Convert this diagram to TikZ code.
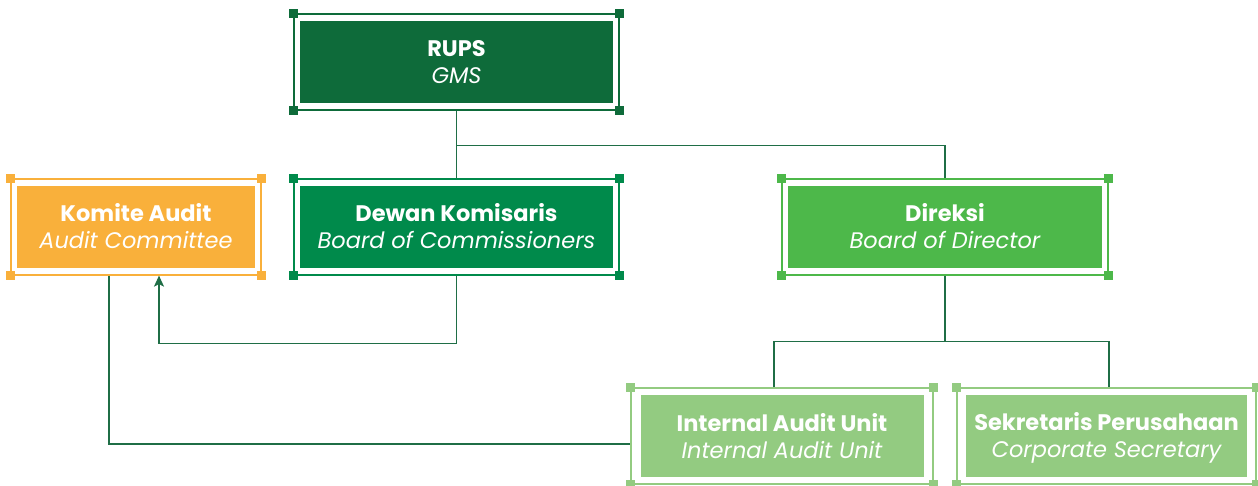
\documentclass[tikz,border=0pt]{standalone}
\usepackage{fontspec}
\setmainfont{Poppins}
\usetikzlibrary{arrows.meta}
\definecolor{cRups}{HTML}{0E6B3A}
\definecolor{cDewan}{HTML}{008A4B}
\definecolor{cDir}{HTML}{4DB84A}
\definecolor{cLight}{HTML}{93CB81}
\definecolor{cKom}{HTML}{F9B03B}
\definecolor{cLine}{HTML}{1F6E46}
\newcommand\orgGap{6pt}
\newcommand\orgStrut{\rule[-5pt]{0pt}{27pt}}
\newcommand\orgText[2]{\orgStrut{\bfseries #1}\\\orgStrut{\itshape #2}}
\tikzset{
  gap/.code={\def\orgGap{#1}},
  orgbox/.style={draw=#1, line width=1.2pt, minimum height=96pt, inner sep=0pt,
    align=center, text=white, font=\fontsize{22.5}{27}\selectfont,
    path picture={\fill[#1] ([shift={(\orgGap,-7pt)}]path picture bounding box.north west)
      rectangle ([shift={(-\orgGap,7pt)}]path picture bounding box.south east);}},
  conn/.style={draw=cLine, line width=1.4pt},
}
\begin{document}
\begin{tikzpicture}[x=1pt,y=-1pt]
\useasboundingbox (0,0) rectangle (1258,486);
\node[orgbox=cRups, minimum width=325pt] (rups) at (456.5,62) {\orgText{RUPS}{GMS}};
\node[orgbox=cKom, minimum width=250pt] (kom) at (136,227) {\orgText{Komite Audit}{Audit Committee}};
\node[orgbox=cDewan, minimum width=325pt] (dewan) at (456.5,227) {\orgText{Dewan Komisaris}{Board of Commissioners}};
\node[orgbox=cDir, minimum width=326pt] (dir) at (945,227) {\orgText{Direksi}{Board of Director}};
\node[orgbox=cLight, gap=9.5pt, minimum width=302pt] (iau) at (782,436) {\orgText{Internal Audit Unit}{Internal Audit Unit}};
\node[orgbox=cLight, gap=9pt, minimum width=299pt] (sek) at (1106.5,436) {\orgText{Sekretaris Perusahaan}{Corporate Secretary}};
\foreach \n/\c in {rups/cRups,kom/cKom,dewan/cDewan,dir/cDir,iau/cLight,sek/cLight}
  \foreach \a in {north west,north east,south west,south east}
    \fill[\c] ([shift={(-4.5pt,-4.5pt)}]\n.\a) rectangle ([shift={(4.5pt,4.5pt)}]\n.\a);
\draw[conn] (rups.south) -- (dewan.north);
\draw[conn] (rups.south) ++(0,35) -| (dir.north);
\draw[conn, -{Stealth[length=11pt,width=10pt,inset=2.5pt]}] (dewan.south) -- ++(0,68) -| ([xshift=23pt]kom.south);
\draw[conn] ([xshift=-27pt]kom.south) |- ([yshift=-8pt]iau.west);
\draw[conn] (dir.south) -- ++(0,66);
\draw[conn] ([xshift=-8pt]iau.north) -- ++(0,-46) -| ([xshift=2.5pt]sek.north);
\end{tikzpicture}
\end{document}
